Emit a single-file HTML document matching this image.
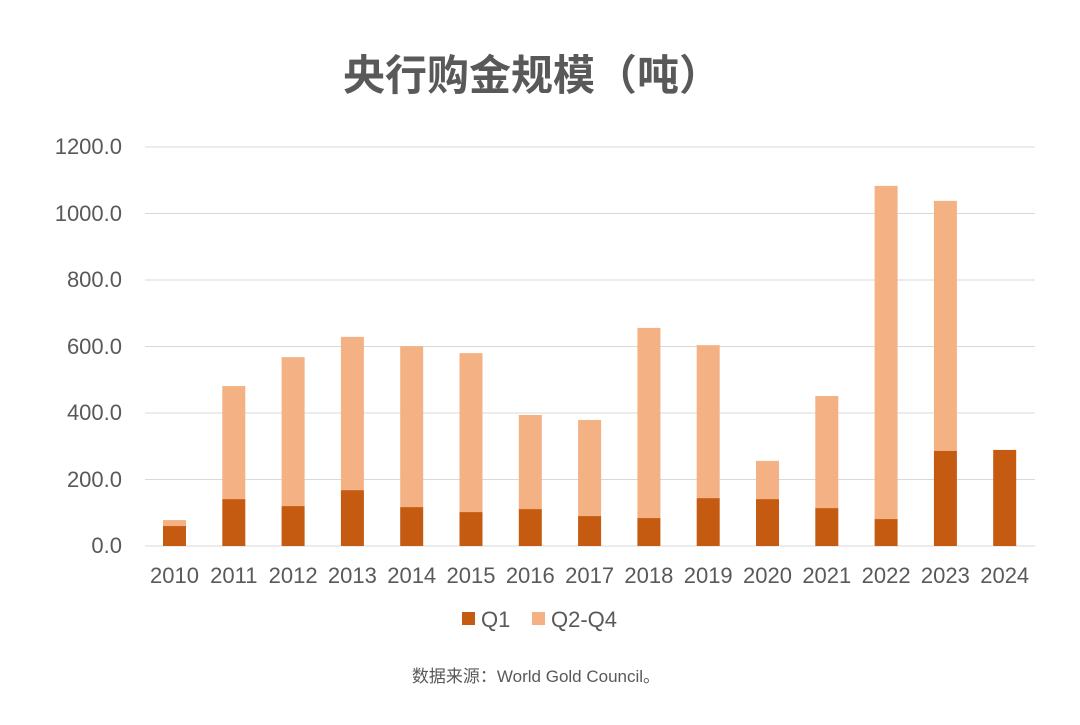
<!DOCTYPE html>
<html><head><meta charset="utf-8"><style>
body{margin:0;background:#fff;}
svg text{font-family:"Liberation Sans","Noto Sans CJK SC",sans-serif;}
</style></head><body>
<svg width="1080" height="720" xmlns="http://www.w3.org/2000/svg">
<rect width="1080" height="720" fill="#fff"/>
<text x="532" y="90" text-anchor="middle" font-size="42" font-weight="bold" fill="#595959">央行购金规模（吨）</text>
<g stroke="#d9d9d9" stroke-width="1">
<line x1="145" x2="1035" y1="147" y2="147"/><line x1="145" x2="1035" y1="213.5" y2="213.5"/>
<line x1="145" x2="1035" y1="280" y2="280"/><line x1="145" x2="1035" y1="346.5" y2="346.5"/>
<line x1="145" x2="1035" y1="413" y2="413"/><line x1="145" x2="1035" y1="479.5" y2="479.5"/>
<line x1="145" x2="1035" y1="546" y2="546"/>
</g>
<g font-size="22" fill="#595959" text-anchor="end">
<text x="122" y="154">1200.0</text><text x="122" y="221">1000.0</text><text x="122" y="287">800.0</text>
<text x="122" y="354">600.0</text><text x="122" y="420">400.0</text><text x="122" y="487">200.0</text><text x="122" y="553">0.0</text>
</g>
<g fill="#F4B183">
<rect x="163" y="520.07" width="23" height="5.98"/>
<rect x="222.3" y="386.07" width="23" height="113.05"/>
<rect x="281.6" y="357.14" width="23" height="148.96"/>
<rect x="340.9" y="336.86" width="23" height="153.28"/>
<rect x="400.2" y="346.17" width="23" height="160.93"/>
<rect x="459.5" y="353.15" width="23" height="158.93"/>
<rect x="518.8" y="415" width="23" height="94.09"/>
<rect x="578.1" y="419.98" width="23" height="96.09"/>
<rect x="637.4" y="327.88" width="23" height="190.19"/>
<rect x="696.7" y="345.17" width="23" height="152.95"/>
<rect x="756" y="460.88" width="23" height="38.24"/>
<rect x="815.3" y="396.04" width="23" height="112.05"/>
<rect x="874.6" y="185.9" width="23" height="333.17"/>
<rect x="933.9" y="200.87" width="23" height="250.03"/>
</g>
<g fill="#C55A11">
<rect x="163" y="526.05" width="23" height="19.95"/>
<rect x="222.3" y="499.12" width="23" height="46.88"/>
<rect x="281.6" y="506.1" width="23" height="39.9"/>
<rect x="340.9" y="490.14" width="23" height="55.86"/>
<rect x="400.2" y="507.1" width="23" height="38.9"/>
<rect x="459.5" y="512.08" width="23" height="33.92"/>
<rect x="518.8" y="509.09" width="23" height="36.91"/>
<rect x="578.1" y="516.07" width="23" height="29.93"/>
<rect x="637.4" y="518.07" width="23" height="27.93"/>
<rect x="696.7" y="498.12" width="23" height="47.88"/>
<rect x="756" y="499.12" width="23" height="46.88"/>
<rect x="815.3" y="508.09" width="23" height="37.91"/>
<rect x="874.6" y="519.07" width="23" height="26.93"/>
<rect x="933.9" y="450.9" width="23" height="95.1"/>
<rect x="993.2" y="449.91" width="23" height="96.09"/>
</g>
<g font-size="22" fill="#595959" text-anchor="middle">
<text x="174.5" y="583">2010</text><text x="233.8" y="583">2011</text><text x="293.1" y="583">2012</text>
<text x="352.4" y="583">2013</text><text x="411.7" y="583">2014</text><text x="471" y="583">2015</text>
<text x="530.3" y="583">2016</text><text x="589.6" y="583">2017</text><text x="648.9" y="583">2018</text>
<text x="708.2" y="583">2019</text><text x="767.5" y="583">2020</text><text x="826.8" y="583">2021</text>
<text x="886.1" y="583">2022</text><text x="945.4" y="583">2023</text><text x="1004.7" y="583">2024</text>
</g>
<rect x="462" y="612" width="13" height="13" fill="#C55A11"/>
<text x="481" y="627" font-size="22" fill="#595959">Q1</text>
<rect x="532" y="612" width="13" height="13" fill="#F4B183"/>
<text x="551" y="627" font-size="22" fill="#595959">Q2-Q4</text>
<text x="536" y="682" text-anchor="middle" font-size="17" fill="#595959">数据来源：World Gold Council。</text>
</svg>
</body></html>
